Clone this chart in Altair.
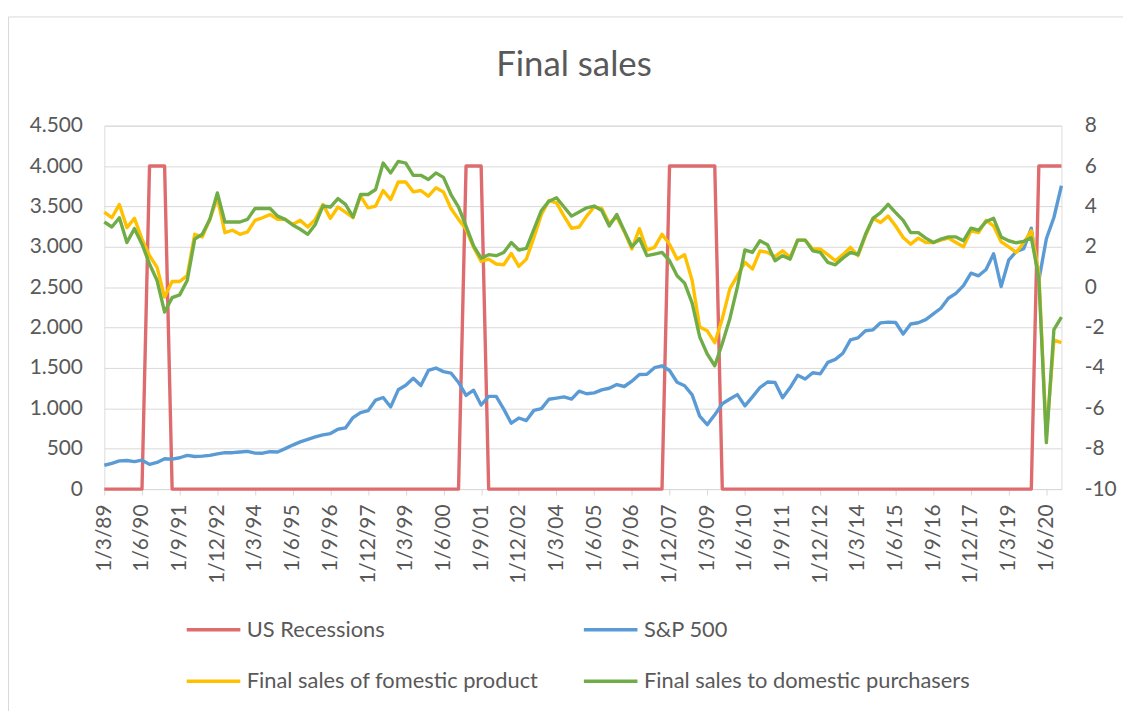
import altair as alt
import pandas as pd

# Quarterly categories (d/m/yy), Q1 1989 .. Q4 2020
years = list(range(1989, 2021))
months = [3, 6, 9, 12]
quarters = [f"1/{m}/{y % 100:02d}" for y in years for m in months]

tick_labels = ["1/3/89", "1/6/90", "1/9/91", "1/12/92", "1/3/94", "1/6/95",
               "1/9/96", "1/12/97", "1/3/99", "1/6/00", "1/9/01", "1/12/02",
               "1/3/04", "1/6/05", "1/9/06", "1/12/07", "1/3/09", "1/6/10",
               "1/9/11", "1/12/12", "1/3/14", "1/6/15", "1/9/16", "1/12/17",
               "1/3/19", "1/6/20"]

recessions = [
    0, 0, 0, 0,           0, 0, 4000, 4000,     4000, 0, 0, 0,        0, 0, 0, 0,
    0, 0, 0, 0,           0, 0, 0, 0,           0, 0, 0, 0,           0, 0, 0, 0,
    0, 0, 0, 0,           0, 0, 0, 0,           0, 0, 0, 0,           0, 0, 0, 0,
    4000, 4000, 4000, 0,  0, 0, 0, 0,           0, 0, 0, 0,           0, 0, 0, 0,
    0, 0, 0, 0,           0, 0, 0, 0,           0, 0, 0, 4000,        4000, 4000, 4000, 4000,
    4000, 4000, 0, 0,     0, 0, 0, 0,           0, 0, 0, 0,           0, 0, 0, 0,
    0, 0, 0, 0,           0, 0, 0, 0,           0, 0, 0, 0,           0, 0, 0, 0,
    0, 0, 0, 0,           0, 0, 0, 0,           0, 0, 0, 0,           4000, 4000, 4000, 4000,
]

sp500 = [
    294.90, 317.98, 349.15, 353.40,   339.94, 358.02, 306.05, 330.22,
    375.22, 371.16, 387.86, 417.09,   403.69, 408.14, 417.80, 435.71,
    451.67, 450.53, 458.93, 466.45,   445.77, 444.27, 462.69, 459.27,
    500.71, 544.75, 584.41, 615.93,   645.50, 670.63, 687.31, 740.74,
    757.12, 885.14, 947.28, 970.43,   1101.75, 1133.84, 1017.01, 1229.23,
    1286.37, 1372.71, 1282.71, 1469.25,  1498.58, 1454.60, 1436.51, 1320.28,
    1160.33, 1224.42, 1040.94, 1148.08,  1147.39, 989.82, 815.28, 879.82,
    848.18, 974.50, 995.97, 1111.92,  1126.21, 1140.84, 1114.58, 1211.92,
    1180.59, 1191.33, 1228.81, 1248.29,  1294.83, 1270.20, 1335.85, 1418.30,
    1420.86, 1503.35, 1526.75, 1468.36,  1322.70, 1280.00, 1166.36, 903.25,
    797.87, 919.32, 1057.08, 1115.10,  1169.43, 1030.71, 1141.20, 1257.64,
    1325.83, 1320.64, 1131.42, 1257.60,  1408.47, 1362.16, 1440.67, 1426.19,
    1569.19, 1606.28, 1681.55, 1848.36,  1872.34, 1960.23, 1972.29, 2058.90,
    2067.89, 2063.11, 1920.03, 2043.94,  2059.74, 2098.86, 2168.27, 2238.83,
    2362.72, 2423.41, 2519.36, 2673.61,  2640.87, 2718.37, 2913.98, 2506.85,
    2834.40, 2941.76, 2976.74, 3230.78,  2584.59, 3100.29, 3363.00, 3756.07,
]

final_sales_domestic_product = [
    3.72, 3.44, 4.10, 2.95,   3.41, 2.38, 1.56, 0.98,   -0.49, 0.28, 0.28, 0.57,
    2.62, 2.49, 3.36, 4.43,   2.70, 2.82, 2.62, 2.74,   3.31, 3.44, 3.60, 3.36,
    3.36, 3.11, 3.31, 2.98,   3.36, 4.10, 3.41, 3.97,   3.72, 3.44, 4.51, 3.93,
    4.02, 4.79, 4.34, 5.21,   5.21, 4.72, 4.79, 4.51,   4.92, 4.72, 3.90, 3.36,
    2.87, 1.97, 1.28, 1.39,   1.15, 1.11, 1.67, 1.03,   1.39, 2.46, 3.60, 4.30,
    4.18, 3.52, 2.92, 2.98,   3.52, 3.97, 3.90, 3.15,   3.48, 2.75, 1.89, 2.90,
    1.84, 1.97, 2.62, 2.13,   1.39, 1.61, 0.33, -1.97,  -2.16, -2.75, -1.56, -0.08,
    0.57, 1.23, 0.90, 1.80,   1.72, 1.51, 1.80, 1.48,   2.33, 2.33, 1.89, 1.89,
    1.61, 1.31, 1.61, 1.97,   1.56, 2.54, 3.41, 3.20,   3.52, 3.03, 2.46, 2.13,
    2.43, 2.21, 2.21, 2.33,   2.43, 2.21, 2.00, 2.79,   2.70, 3.31, 3.03, 2.25,
    2.00, 1.72, 2.21, 2.80,   0.70, -7.40, -2.62, -2.75,
]

final_sales_domestic_purchasers = [
    3.23, 2.98, 3.44, 2.21,   2.90, 2.13, 1.15, 0.33,   -1.23, -0.52, -0.38, 0.33,
    2.38, 2.62, 3.36, 4.67,   3.23, 3.23, 3.23, 3.36,   3.90, 3.90, 3.90, 3.52,
    3.36, 3.08, 2.87, 2.62,   3.11, 4.02, 3.97, 4.39,   4.10, 3.48, 4.59, 4.59,
    4.84, 6.15, 5.66, 6.23,   6.15, 5.54, 5.54, 5.33,   5.66, 5.44, 4.59, 3.97,
    3.03, 2.05, 1.44, 1.61,   1.56, 1.72, 2.21, 1.84,   1.92, 2.87, 3.80, 4.26,
    4.43, 3.97, 3.52, 3.72,   3.93, 4.02, 3.80, 3.03,   3.60, 2.79, 2.00, 2.41,
    1.56, 1.64, 1.72, 1.31,   0.57, 0.20, -0.79, -2.46,  -3.31, -3.89, -2.79, -1.56,
    0.00, 1.85, 1.72, 2.30,   2.10, 1.31, 1.56, 1.39,   2.33, 2.33, 1.80, 1.72,
    1.23, 1.11, 1.44, 1.72,   1.61, 2.62, 3.41, 3.69,   4.10, 3.69, 3.31, 2.70,
    2.70, 2.43, 2.21, 2.38,   2.49, 2.49, 2.30, 2.92,   2.82, 3.25, 3.41, 2.49,
    2.30, 2.20, 2.27, 2.45,   0.45, -7.70, -2.10, -1.48,
]

left_ticks = [0, 500, 1000, 1500, 2000, 2500, 3000, 3500, 4000, 4500]
right_ticks = [-10, -8, -6, -4, -2, 0, 2, 4, 6, 8]

series_names = ["US Recessions", "S&P 500",
                "Final sales of fomestic product", "Final sales to domestic purchasers"]
series_colors = ["#DE6C6E", "#5B9BD5", "#FFC000", "#70AD47"]
series_values = [recessions, sp500, final_sales_domestic_product, final_sales_domestic_purchasers]

# legend fills column by column: order so rows read as in the original
legend_order = [0, 2, 1, 3]
legend_domain = [series_names[i] for i in legend_order]
legend_range = [series_colors[i] for i in legend_order]

rows = []
for name, vals in zip(series_names, series_values):
    for q, v in zip(quarters, vals):
        rows.append({"quarter": q, "series": name, "value": v})
df = pd.DataFrame(rows)

FONT = "Lato"
TXT = "#595959"
GRID = "#D9D9D9"
LW = 3.4

x_enc = alt.X(
    "quarter:N", sort=quarters, title=None,
    scale=alt.Scale(type="point", padding=0),
    axis=alt.Axis(values=tick_labels, labelAngle=-90, labelFont=FONT, labelFontSize=21,
                  labelColor=TXT, tickColor=GRID, tickSize=6, domainColor=GRID,
                  domainWidth=1, labelPadding=9, grid=False, labelOverlap=False),
)

color_enc = alt.Color(
    "series:N",
    scale=alt.Scale(domain=legend_domain, range=legend_range),
    legend=alt.Legend(title=None, orient="none", legendX=83, legendY=492, columns=2,
                      symbolType="M-2,0H2", symbolSize=729, symbolStrokeWidth=LW,
                      symbolOffset=11.5, labelOffset=18, labelFont=FONT, labelFontSize=22,
                      labelColor=TXT, labelLimit=600, columnPadding=38, rowPadding=25,
                      padding=0),
)

left_axis = alt.Axis(orient="left", values=left_ticks,
                     labelExpr="replace(format(datum.value, ','), ',', '.')",
                     grid=True, gridColor=GRID, gridWidth=1, domain=False, ticks=False,
                     tickSize=0, labelPadding=22, labelFont=FONT, labelFontSize=21,
                     labelColor=TXT, title=None)
right_axis = alt.Axis(orient="right", values=right_ticks, labelExpr="toString(datum.value)",
                      grid=False, domain=False, ticks=False, tickSize=0, labelPadding=23,
                      labelFont=FONT, labelFontSize=21, labelColor=TXT, title=None)

left_y = alt.Y("value:Q", scale=alt.Scale(domain=[0, 4500], nice=False), axis=left_axis)
right_y = alt.Y("value:Q", scale=alt.Scale(domain=[-10, 8], nice=False), axis=right_axis)


def series_layer(name, y_enc):
    return (
        alt.Chart(df)
        .transform_filter(alt.datum.series == name)
        .mark_line(strokeWidth=LW, strokeJoin="round")
        .encode(x=x_enc, y=y_enc, color=color_enc)
    )


left_group = alt.layer(series_layer(series_names[0], left_y), series_layer(series_names[1], left_y))
right_group = alt.layer(series_layer(series_names[2], right_y), series_layer(series_names[3], right_y))

frame = (
    alt.Chart(pd.DataFrame({"k": [0]}))
    .mark_rect(filled=False, stroke=GRID, strokeWidth=1)
    .encode(x=alt.value(-96.5), x2=alt.value(2000), y=alt.value(-109.5), y2=alt.value(2000))
)

chart = (
    alt.layer(frame, left_group, right_group)
    .resolve_scale(y="independent")
    .properties(
        width=964, height=366,
        padding={"left": 97, "top": 116, "right": 62, "bottom": 221},
        autosize=alt.AutoSizeParams(type="none"),
        title=alt.TitleParams(text="Final sales", font=FONT, fontSize=35, fontWeight="normal",
                              color=TXT, anchor="middle", baseline="alphabetic",
                              offset=-95, dx=-9),
    )
    .configure_view(stroke="transparent")
    .configure(background="white")
)

chart.save("out.html", embed_options={"renderer": "svg", "actions": False})
